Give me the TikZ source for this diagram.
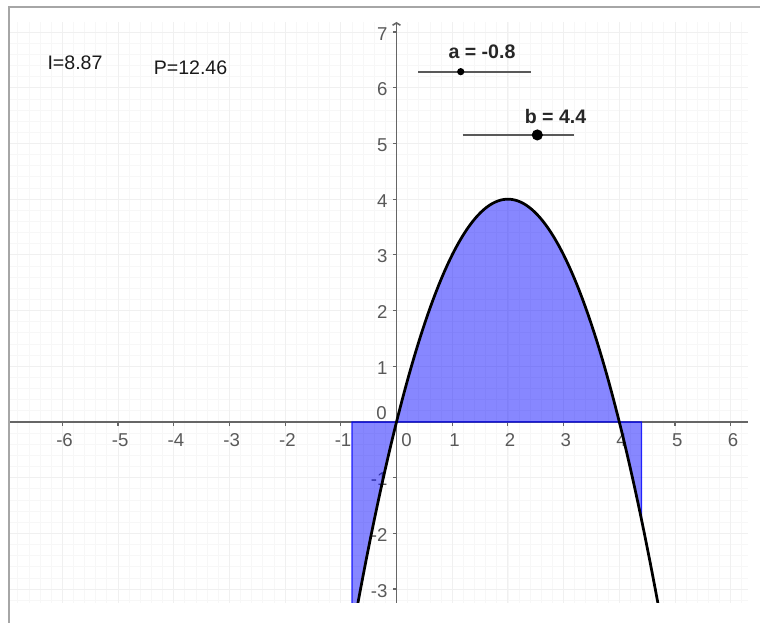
\documentclass[tikz,border=0pt]{standalone}
\usepackage{fontspec}
\setmainfont{Liberation Sans}
\usetikzlibrary{arrows.meta}
\definecolor{achse}{gray}{0.4}

\begin{document}
\begin{tikzpicture}[
	achsentext/.style={text=black!65,font=\fontsize{9.5}{10}\selectfont,inner sep=1pt},
	infotext/.style={text=black!90,font=\fontsize{10}{12}\selectfont,inner sep=1pt},
	reglertext/.style={text=black!85,font=\bfseries\fontsize{10}{12}\selectfont,inner sep=1pt},
	regler/.style={draw=black!65,line width=1pt},
	]
	\useasboundingbox (-7.119,-3.609) rectangle (6.526,7.576);
%%% Rahmen
	\draw[black!35,line width=1pt] (-6.957,-3.609) -- (-6.957,7.451) -- (6.526,7.451);
%%% Gitter
	\draw[black!3,line width=0.4pt] (-6.939,-3.25) grid[step=0.2] (6.311,7.181);
	\draw[black!6,line width=0.5pt] (-6.939,-3.25) grid[step=1] (6.311,7.181);
%%% Achsen
	\draw[achse,line width=0.8pt] (-6.939,0) -- (6.311,0);
	\draw[achse,line width=0.8pt,-{Straight Barb[length=1.2pt,width=4pt]}] (0,-3.25) -- (0,7.181);
%%% Beschriftung der Achsen
	\foreach \x in {-6,-5,-4,-3,-2,-1,1,2,3,4,5,6}{
		\draw[achse,line width=0.6pt] (\x,0) -- ++(0,-0.07);
		\node[achsentext] (xl\x) at (\x+0.04,-0.32) {\x};
	}
	\foreach \y in {-3,-2,-1,1,2,3,4,5,6,7}{
		\draw[achse,line width=0.6pt] (0,\y) -- ++(-0.07,0);
		\node[achsentext,anchor=east] (yl\y) at (-0.12,\y-0.03) {\y};
	}
	\node[achsentext] (x0) at (0.18,-0.32) {0};
	\node[achsentext] (y0) at (-0.27,0.16) {0};
%%% Flaeche und Parabel
	\begin{scope}
	\clip (-6.939,-3.25) rectangle (6.311,7.181);
	\filldraw[fill=blue,fill opacity=0.47,draw=blue,draw opacity=0.8,line width=0.6pt] (-0.8,0) -- plot[domain=-0.8:4.4,samples=90] (\x,{4*\x-\x*\x}) -- (4.4,0) -- cycle;
	\draw[black,line width=1.4pt] plot[domain=-0.75:4.75,samples=110] (\x,{4*\x-\x*\x});
	\end{scope}
%%% Werte
	\node[infotext] (flaecheI) at (-5.772,6.445) {I=8.87};
	\node[infotext] (umfangP) at (-3.698,6.355) {P=12.46};
%%% Schieberegler a und b
	\coordinate (aL) at (0.386,6.289);
	\coordinate (aR) at (2.415,6.289);
	\coordinate (aP) at (1.153,6.289);
	\draw[regler] (aL) -- (aR);
	\fill[black] (aP) circle (0.065);
	\node[reglertext] (reglerA) at (1.535,6.643) {a = -0.8};
	\coordinate (bL) at (1.189,5.153);
	\coordinate (bR) at (3.187,5.153);
	\coordinate (bP) at (2.528,5.153);
	\draw[regler] (bL) -- (bR);
	\fill[black] (bP) circle (0.1);
	\node[reglertext] (reglerB) at (2.855,5.481) {b = 4.4};
\end{tikzpicture}
\end{document}
